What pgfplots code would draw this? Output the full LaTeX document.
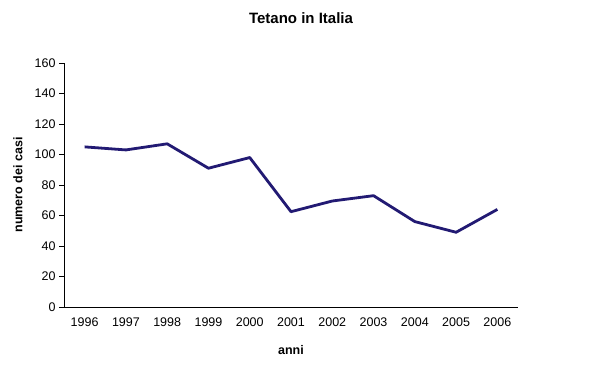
\documentclass[border=0pt]{standalone}
\usepackage{fontspec}
\setmainfont{Liberation Sans}
\usepackage{pgfplots}
\pgfplotsset{compat=1.18}
\definecolor{navyline}{RGB}{34,26,115}
\begin{document}
\begin{tikzpicture}[x=1pt,y=1pt]
\path[fill=white] (0,0) rectangle (604,383);
\begin{axis}[
  at={(64pt,76pt)}, anchor=south west,
  scale only axis, width=454pt, height=244pt,
  xmin=-0.5, xmax=10.5, ymin=0, ymax=160,
  axis lines*=left,
  axis line style={black, line width=0.8pt},
  tick align=outside,
  xtick={0,...,10},
  xticklabels={1996,1997,1998,1999,2000,2001,2002,2003,2004,2005,2006},
  x tick style={draw=none},
  minor xtick={-0.5,0.5,...,10.5},
  minor tick length=5pt,
  minor x tick style={black, line width=0.8pt},
  ytick={0,20,...,160},
  major tick length=5pt,
  y tick style={black, line width=0.8pt},
  /pgf/number format/assume math mode=true,
  ticklabel style={font=\fontsize{12.5}{14}\selectfont},
  xticklabel style={yshift=-2pt},
  title={Tetano in Italia},
  title style={at={(axis description cs:0.522,1)}, anchor=center, yshift=39pt, font=\fontsize{15}{18}\selectfont\bfseries},
  xlabel={anni},
  xlabel style={at={(axis description cs:0.5,0)}, anchor=center, yshift=-43pt, font=\fontsize{12.5}{15}\selectfont\bfseries},
  ylabel={numero dei casi},
  ylabel style={at={(axis description cs:-0.1013,0.5)}, anchor=center, rotate=0, font=\fontsize{12.5}{15}\selectfont\bfseries},
  clip=false,
]
\addplot[navyline, line width=2.8pt, line join=round, mark=none] coordinates {
  (0,105) (1,103) (2,107) (3,91) (4,98) (5,62.5) (6,69.5) (7,73) (8,56) (9,49) (10,64)
};
\end{axis}
\end{tikzpicture}
\end{document}
